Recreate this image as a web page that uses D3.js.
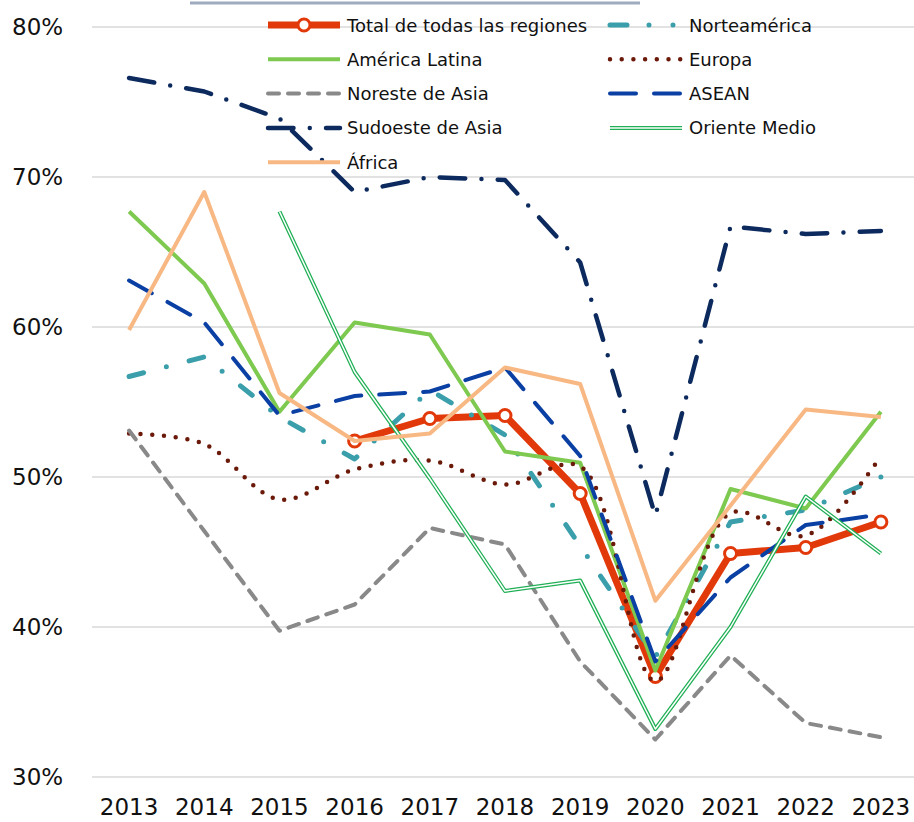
<!DOCTYPE html>
<meta charset="utf-8">

<!-- Load d3.js -->
<script src="https://d3js.org/d3.v7.min.js"></script>

<style>
  body { margin: 0; background: #fff; }
  text { font-family: "DejaVu Sans", Verdana, sans-serif; fill: #111; }
</style>

<!-- Create a div where the graph will take place -->
<div id="my_dataviz"></div>

<script>

// data (percent)
var years = [2013, 2014, 2015, 2016, 2017, 2018, 2019, 2020, 2021, 2022, 2023];
var yTicks = [30, 40, 50, 60, 70, 80];

var total        = [null, null, null, 52.4, 53.9, 54.1, 48.9, 36.7, 44.9, 45.3, 47.0];
var norteamerica = [56.7, 58.0, 54.0, 51.2, 55.8, 52.8, 45.4, 38.0, 47.0, 47.8, 50.0];
var latina       = [67.7, 62.9, 54.35, 60.3, 59.5, 51.7, 50.95, 37.1, 49.2, 47.9, 54.35];
var europa       = [52.9, 52.2, 48.5, 50.5, 51.1, 49.5, 50.7, 36.4, 47.6, 46.1, 51.4];
var noreste      = [53.1, 46.4, 39.75, 41.5, 46.6, 45.5, 37.7, 32.5, 38.1, 33.6, 32.65];
var asean        = [63.1, 60.3, 54.1, 55.4, 55.7, 57.3, 51.4, 37.7, 43.3, 46.8, 47.5];
var sudoeste     = [76.6, 75.7, 73.9, 69.0, 70.0, 69.8, 64.3, 47.4, 66.7, 66.2, 66.4];
var oriente      = [null, null, 67.7, 57.0, 49.9, 42.4, 43.1, 33.2, 40.0, 48.7, 44.9];
var africa       = [59.8, 69.0, 55.6, 52.4, 52.9, 57.3, 56.2, 41.75, 48.1, 54.5, 54.0];

var names = ["Total de todas las regiones", "Norteamérica", "América Latina", "Europa",
             "Noreste de Asia", "ASEAN", "Sudoeste de Asia", "Oriente Medio", "África"];

// styles for each series
var series = [
  {name: names[0], values: total,        color: "#e2390a", width: 7,   dash: null, cap: "butt", marker: true},
  {name: names[1], values: norteamerica, color: "#3a9fab", width: 5,   dash: "15,23.5,0,23.5", cap: "round", legendDash: "17,22,0,24,0,100"},
  {name: names[2], values: latina,       color: "#7ec94f", width: 4,   dash: null, cap: "butt"},
  {name: names[3], values: europa,       color: "#6b1a0a", width: 4.5, dash: "0,11.7", cap: "round", smooth: true},
  {name: names[4], values: noreste,      color: "#898989", width: 4,   dash: "11,9", cap: "round"},
  {name: names[5], values: asean,        color: "#0a3fa3", width: 4,   dash: "26,18", cap: "round"},
  {name: names[6], values: sudoeste,     color: "#0c2a5e", width: 4.5, dash: "25.5,16.25,0,16.25", cap: "round"},
  {name: names[7], values: oriente,      color: "#1faf55", width: 4,   dash: null, cap: "butt", double: true},
  {name: names[8], values: africa,       color: "#f8b884", width: 4,   dash: null, cap: "butt"}
];

var W = 914, H = 822;

var svg = d3.select("#my_dataviz")
  .append("svg")
    .attr("width", W)
    .attr("height", H);

// scales
var x = d3.scalePoint()
  .domain(years)
  .range([91.5, 918.5])
  .padding(0.5);

var y = d3.scaleLinear()
  .domain([30, 80])
  .range([777, 27]);

// gridlines
svg.append("g")
  .selectAll("line")
  .data(yTicks)
  .enter().append("line")
    .attr("x1", 92).attr("x2", W)
    .attr("y1", function(d) { return y(d); })
    .attr("y2", function(d) { return y(d); })
    .attr("stroke", "#d9d9d9")
    .attr("stroke-width", 1.5);

// y labels
svg.append("g")
  .selectAll("text")
  .data(yTicks)
  .enter().append("text")
    .attr("x", 12)
    .attr("y", function(d) { return y(d) + 8; })
    .attr("font-size", 23)
    .text(function(d) { return d + "%"; });

// x labels
svg.append("g")
  .selectAll("text")
  .data(years)
  .enter().append("text")
    .attr("x", function(d) { return x(d); })
    .attr("y", 815)
    .attr("text-anchor", "middle")
    .attr("font-size", 23)
    .text(function(d) { return d; });

// thin bar at the top
svg.append("line")
  .attr("x1", 190).attr("x2", 640)
  .attr("y1", 3).attr("y2", 3)
  .attr("stroke", "#9eabbf")
  .attr("stroke-width", 3);

// lines
var lineGen = d3.line()
  .defined(function(d) { return d != null; })
  .x(function(d, i) { return x(years[i]); })
  .y(function(d) { return y(d); });

series.forEach(function(s) {
  var gen = lineGen.curve(s.smooth ? d3.curveCatmullRom : d3.curveLinear);
  var path = svg.append("path")
    .attr("d", gen(s.values))
    .attr("fill", "none")
    .attr("stroke", s.color)
    .attr("stroke-width", s.width)
    .attr("stroke-linecap", s.cap)
    .attr("stroke-linejoin", "round");
  if (s.dash) path.attr("stroke-dasharray", s.dash);
  if (s.double) {
    svg.append("path")
      .attr("d", gen(s.values))
      .attr("fill", "none")
      .attr("stroke", "#fff")
      .attr("stroke-width", 1.5)
      .attr("stroke-linejoin", "round");
  }
  if (s.marker) {
    svg.append("g")
      .selectAll("circle")
      .data(s.values.map(function(v, i) { return {v: v, yr: years[i]}; })
                    .filter(function(d) { return d.v != null; }))
      .enter().append("circle")
        .attr("cx", function(d) { return x(d.yr); })
        .attr("cy", function(d) { return y(d.v); })
        .attr("r", 6)
        .attr("fill", "#fff")
        .attr("stroke", s.color)
        .attr("stroke-width", 3);
  }
});

// legend: two columns
var legend = svg.append("g");
series.forEach(function(s, i) {
  var col = i % 2, row = Math.floor(i / 2);
  var x0 = col === 0 ? 268 : 610;
  var yy = 25 + row * 34.3;
  var g = legend.append("g");
  var ln = g.append("line")
    .attr("x1", x0).attr("x2", x0 + 72)
    .attr("y1", yy).attr("y2", yy)
    .attr("stroke", s.color)
    .attr("stroke-width", s.width)
    .attr("stroke-linecap", s.cap);
  if (s.legendDash || s.dash) ln.attr("stroke-dasharray", s.legendDash || s.dash);
  if (s.double) {
    g.append("line")
      .attr("x1", x0).attr("x2", x0 + 72)
      .attr("y1", yy).attr("y2", yy)
      .attr("stroke", "#fff")
      .attr("stroke-width", 1.5);
  }
  if (s.marker) {
    g.append("circle")
      .attr("cx", x0 + 36).attr("cy", yy)
      .attr("r", 6)
      .attr("fill", "#fff")
      .attr("stroke", s.color)
      .attr("stroke-width", 3);
  }
  g.append("text")
    .attr("x", x0 + 79)
    .attr("y", yy + 6.5)
    .attr("font-size", 18)
    .text(s.name);
});

</script>
